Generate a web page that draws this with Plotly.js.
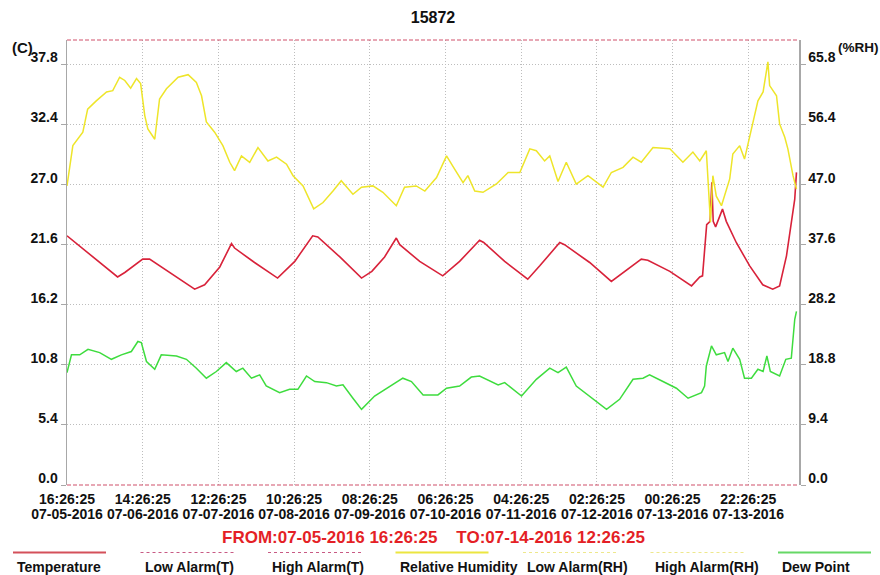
<!DOCTYPE html>
<html><head><meta charset="utf-8">
<script src="https://cdn.plot.ly/plotly-3.0.1.min.js"></script>
<style>html,body{margin:0;padding:0;background:#fff}#chart{width:880px;height:575px}</style>
</head><body><div id="chart"></div>
<script>
// ---- data ----
const chartTitle = '15872';
const tickHours = [0, 22, 44, 66, 88, 110, 132, 154, 176, 198];
const tickTimes = ['16:26:25','14:26:25','12:26:25','10:26:25','08:26:25','06:26:25','04:26:25','02:26:25','00:26:25','22:26:25'];
const tickDates = ['07-05-2016','07-06-2016','07-07-2016','07-08-2016','07-09-2016','07-10-2016','07-11-2016','07-12-2016','07-13-2016','07-13-2016'];
const tempTicks = [0, 5.4, 10.8, 16.2, 21.6, 27.0, 32.4, 37.8];
const rhTicks = [0, 9.4, 18.8, 28.2, 37.6, 47.0, 56.4, 65.8];
const rangeText = 'FROM:07-05-2016 16:26:25\u00a0\u00a0\u00a0\u00a0TO:07-14-2016 12:26:25';
const legendLabels = ['Temperature','Low Alarm(T)','High Alarm(T)','Relative Humidity','Low Alarm(RH)','High Alarm(RH)','Dew Point'];

const tempHours = [0,7.2,14.7,16.8,22.0,24.0,30.4,37.1,40.0,44.4,47.8,48.7,54.5,61.2,66.2,71.4,72.9,79.3,85.6,88.6,92.3,95.7,96.7,102.5,109.2,114.1,119.9,121.1,127.2,133.9,137.4,143.2,144.6,151.9,158.2,162.1,166.9,168.8,175.2,181.5,183.9,184.7,185.9,186.9,187.4,187.8,188.5,190.5,191.6,194.5,198.4,202.2,205.1,207.1,209.1,211.5,212.0];
const tempValues = [22.4,20.6,18.7,19.1,20.3,20.3,19.0,17.6,18.0,19.6,21.7,21.3,20.0,18.6,20.1,22.4,22.3,20.5,18.6,19.2,20.5,22.2,21.6,20.1,18.8,20.1,22.0,21.8,20.1,18.5,19.7,21.8,21.6,20.0,18.3,19.2,20.3,20.2,19.2,17.9,18.7,18.8,23.4,23.7,27.2,23.7,23.2,24.8,23.7,21.8,19.7,18.0,17.6,17.9,20.6,25.7,28.1];

const rhHours = [0,1.7,4.6,6.0,8.5,11.5,13.3,15.3,16.8,18.5,20.2,21.4,22.6,23.5,25.5,26.9,28.9,32.3,35.2,37.6,39.1,40.5,42.9,45.3,47.3,48.7,50.7,53.1,55.5,58.4,60.9,63.8,65.7,68.6,71.7,74.4,77.3,79.7,83.1,85.6,88.9,91.8,95.7,98.1,101.5,104.0,107.4,110.3,112.7,115.1,116.5,118.5,120.9,124.8,128.2,131.6,134.5,136.4,138.8,140.3,142.7,145.1,148.0,151.4,155.8,158.2,161.6,164.5,166.9,170.3,175.2,179.0,181.9,183.9,185.8,186.3,187.0,187.7,188.7,190.2,191.1,192.6,193.5,195.5,196.9,199.4,200.8,202.3,202.8,203.7,204.2,206.2,207.1,208.6,209.5,211.0,212.0];
const rhValues = [46.8,53.1,55.2,58.8,60.1,61.5,61.7,63.8,63.3,62.1,63.6,62.8,57.8,55.7,54.1,60.4,62.0,63.8,64.2,63.0,60.9,56.8,55.2,53.1,50.5,49.2,51.5,50.5,52.8,50.7,51.3,50.2,48.4,46.8,43.2,44.2,46.0,47.6,45.5,46.6,46.8,45.8,43.7,46.6,46.8,46.0,48.1,51.5,49.4,47.3,48.4,46.0,45.8,47.1,48.9,48.9,52.6,52.3,50.7,51.5,47.5,50.5,47.1,48.4,46.6,48.9,49.7,51.3,50.5,52.8,52.6,50.5,52.1,50.7,52.3,47.9,41.1,48.4,45.2,43.7,45.2,47.9,51.8,53.1,51.0,56.8,60.1,61.5,63.0,66.2,62.5,60.9,56.5,54.4,52.6,48.4,46.3];

const dpHours = [0,1.3,3.7,6.1,9.5,12.9,15.8,18.7,20.6,21.6,23.1,25.5,27.4,31.8,34.7,37.6,40.5,43.4,46.3,49.2,51.1,53.6,56.0,57.9,61.8,64.7,67.1,69.6,72.0,75.4,78.3,80.2,83.1,85.6,89.4,93.8,97.6,100.1,103.5,107.8,110.3,114.1,117.5,119.9,125.3,127.2,132.1,136.4,140.3,142.7,145.1,148.0,152.9,156.8,160.6,164.5,167.4,169.3,173.2,177.1,180.5,184.4,185.3,185.8,187.3,188.7,191.1,192.1,193.5,195.5,196.9,198.9,200.8,202.3,203.4,204.4,207.1,208.9,210.5,211.5,212.0];
const dpValues = [10.1,11.7,11.7,12.2,11.9,11.3,11.7,12.0,12.9,12.8,11.1,10.4,11.7,11.6,11.3,10.5,9.6,10.2,11.0,10.2,10.5,9.6,9.9,8.9,8.3,8.6,8.6,9.8,9.3,9.2,8.9,9.0,7.8,6.8,8.0,8.9,9.6,9.3,8.1,8.1,8.7,8.9,9.7,9.8,9.0,9.2,8.0,9.5,10.5,10.1,10.6,8.9,7.7,6.8,7.7,9.5,9.6,9.9,9.3,8.7,7.8,8.3,8.9,10.7,12.5,11.7,11.9,11.1,12.3,11.3,9.6,9.6,10.4,10.2,11.6,10.2,9.8,11.3,11.4,14.9,15.6];

// ---- layout helpers ----
const W = 880, H = 575, ML = 67, MR = 81, MT = 40, MB = 90;
const PW = W - ML - MR, PH = H - MT - MB;
const px = v => (v - ML) / PW;
const py = v => (H - MB - v) / PH;
const FONT = 'Liberation Sans, Arial, sans-serif';
const tf = {family: FONT, size: 14, color: '#111', weight: 'bold'};

const legendColors = ['#d4505a','#c85a84','#c85a84','#ece640','#eee88c','#eee88c','#66d866'];
const legendDash = ['solid','dot','dot','solid','dot','dot','solid'];
const legendWidth = [2,1.2,1.2,2,1.2,1.2,2];

const traces = [
  {x: rhHours, y: rhValues, yaxis: 'y2', type: 'scatter', mode: 'lines', line: {color: '#eee52a', width: 1.5}, hoverinfo: 'skip'},
  {x: dpHours, y: dpValues, xaxis: 'x2', type: 'scatter', mode: 'lines', line: {color: '#3edc3e', width: 1.5}, hoverinfo: 'skip'},
  {x: tempHours, y: tempValues, type: 'scatter', mode: 'lines', line: {color: '#d8223a', width: 1.6}, hoverinfo: 'skip'}
];

const shapes = [
  {type: 'line', xref: 'paper', yref: 'paper', x0: 0, x1: 1, y0: 1, y1: 1, line: {color: '#d0506a', width: 1, dash: '4px,2px'}, layer: 'above'},
  {type: 'line', xref: 'paper', yref: 'paper', x0: 0, x1: 1, y0: 0, y1: 0, line: {color: '#d0506a', width: 1.2, dash: '4px,2px'}, layer: 'above'}
];
const annotations = [
  {text: '(C)', xref: 'paper', yref: 'paper', x: px(22), y: py(47), showarrow: false, font: {family: FONT, size: 15, color: '#111', weight: 'bold'}, xanchor: 'center', yanchor: 'middle'},
  {text: '(%RH)', xref: 'paper', yref: 'paper', x: px(858), y: py(47), showarrow: false, font: {family: FONT, size: 13.5, color: '#111', weight: 'bold'}, xanchor: 'center', yanchor: 'middle'},
  {text: rangeText, xref: 'paper', yref: 'paper', x: px(433.5), y: py(537), showarrow: false, font: {family: FONT, size: 17, color: '#e41f26', weight: 'bold'}, xanchor: 'center', yanchor: 'middle'}
];
legendLabels.forEach((lab, i) => {
  const x0 = 13 + i * 127.5;
  shapes.push({type: 'line', xref: 'paper', yref: 'paper', x0: px(x0), x1: px(x0 + 93), y0: py(552.5), y1: py(552.5),
    line: {color: legendColors[i], width: legendWidth[i], dash: legendDash[i]}});
  annotations.push({text: lab, xref: 'paper', yref: 'paper', x: px(x0 + 2), y: py(566.5), showarrow: false,
    xanchor: 'left', yanchor: 'middle', font: {family: FONT, size: 14, color: '#111', weight: 'bold'}});
});

const gridDash = '1px,2px';
const xr = [0, PW / (75.7 / 22)];
const layout = {
  width: W, height: H, margin: {l: ML, r: MR, t: MT, b: MB, pad: 0},
  paper_bgcolor: '#fff', plot_bgcolor: '#fff', showlegend: false,
  title: {text: chartTitle, font: {family: FONT, size: 16, color: '#111', weight: 'bold'}, xref: 'paper', x: 0.5, xanchor: 'center', yref: 'container', y: 1 - 17 / H, yanchor: 'middle'},
  xaxis: {range: xr, tickmode: 'array', tickvals: tickHours, ticktext: tickTimes, showgrid: true, gridcolor: '#bdbdbd', griddash: gridDash, gridwidth: 1,
    zeroline: false, showline: false, ticks: '', tickfont: tf, ticklabelstandoff: 4, fixedrange: true},
  xaxis2: {range: xr, overlaying: 'x', side: 'bottom', anchor: 'y', tickmode: 'array', tickvals: tickHours, ticktext: tickDates, showgrid: false,
    zeroline: false, showline: false, ticks: '', tickfont: tf, ticklabelstandoff: 19, fixedrange: true},
  yaxis: {range: [0, 40], tickmode: 'array', tickvals: tempTicks, tickformat: '.1f', showgrid: true, gridcolor: '#bdbdbd', griddash: gridDash, gridwidth: 1,
    zeroline: false, showline: true, linecolor: '#a8a8a8', linewidth: 1.5, ticks: 'outside', ticklen: 5, tickcolor: '#a8a8a8',
    tickfont: tf, ticklabelshift: -7, fixedrange: true},
  yaxis2: {range: [0, 40 * 65.8 / 37.8], overlaying: 'y', side: 'right', tickmode: 'array', tickvals: rhTicks, tickformat: '.1f', showgrid: false,
    zeroline: false, showline: true, linecolor: '#a8a8a8', linewidth: 1.5, ticks: 'outside', ticklen: 5, tickcolor: '#a8a8a8',
    tickfont: tf, ticklabelshift: -7, fixedrange: true},
  shapes: shapes, annotations: annotations
};
Plotly.newPlot('chart', traces, layout, {displayModeBar: false, staticPlot: true});
</script></body></html>
